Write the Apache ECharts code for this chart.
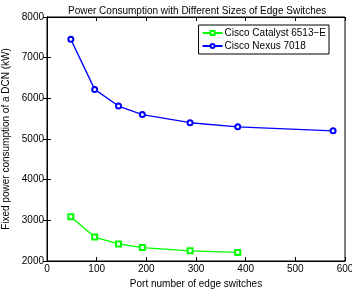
<!DOCTYPE html>
<html>
<head>
<meta charset="utf-8">
<script src="https://cdn.jsdelivr.net/npm/echarts@6/dist/echarts.min.js"></script>
<style>
  html, body { margin: 0; padding: 0; background: #fff; }
  #main { width: 352px; height: 291px; }
</style>
</head>
<body>
<div id="main"></div>
<script>
// port numbers of edge switches
var catalystPorts = [48, 96, 144, 192, 288, 384];
var catalystPower = [3090, 2590, 2420, 2330, 2250, 2210];
var nexusPorts = [48, 96, 144, 192, 288, 384, 576];
var nexusPower = [7450, 6220, 5810, 5600, 5400, 5300, 5200];
var xTicks = [0, 100, 200, 300, 400, 500, 600];
var yTicks = [2000, 3000, 4000, 5000, 6000, 7000, 8000];

function pairs(xs, ys) {
    return xs.map(function (x, i) { return [x, ys[i]]; });
}

var myChart = echarts.init(document.getElementById('main'));
var font = 'Liberation Sans, Arial, sans-serif';

var option = {
    animation: false,
    title: {
        text: 'Power Consumption with Different Sizes of Edge Switches',
        left: 63,
        top: 1,
        textStyle: { fontFamily: font, fontSize: 10, fontWeight: 'normal', color: '#000' }
    },
    legend: {
        orient: 'vertical',
        right: 23,
        top: 25,
        backgroundColor: '#fff',
        borderColor: '#000',
        borderWidth: 1,
        padding: [3, 3, 3, 3],
        itemGap: 3,
        itemWidth: 20,
        itemHeight: 5,
        textStyle: { fontFamily: font, fontSize: 10, color: '#000', padding: [0, 0, 0, -3] },
        data: ['Cisco Catalyst 6513\u2212E', 'Cisco Nexus 7018']
    },
    grid: {
        left: 47, right: 7, top: 17, bottom: 30,
        containLabel: false,
        outerBoundsMode: 'none',
        show: true, borderColor: '#000', borderWidth: 1
    },
    xAxis: [{
        type: 'value', min: 0, max: 600, interval: 100,
        name: 'Port number of edge switches',
        nameLocation: 'middle', nameGap: 9,
        nameTextStyle: { fontFamily: font, fontSize: 10, color: '#000' },
        axisLine: { show: true, lineStyle: { color: '#000' } },
        axisTick: { inside: true, length: 4, lineStyle: { color: '#000' } },
        axisLabel: { fontFamily: font, fontSize: 10, color: '#000', margin: 3,
            formatter: function (v) { return xTicks.indexOf(v) >= 0 ? v : ''; } },
        splitLine: { show: false }
    }, {
        type: 'value', min: 0, max: 600, interval: 100, position: 'top',
        axisLine: { show: true, lineStyle: { color: '#000' } },
        axisTick: { inside: true, length: 4, lineStyle: { color: '#000' } },
        axisLabel: { show: false }, splitLine: { show: false }
    }],
    yAxis: [{
        type: 'value', min: 2000, max: 8000, interval: 1000,
        name: 'Fixed power consumption of a DCN (kW)',
        nameLocation: 'middle', nameGap: 32,
        nameTextStyle: { fontFamily: font, fontSize: 10, color: '#000' },
        axisLine: { show: true, lineStyle: { color: '#000' } },
        axisTick: { inside: true, length: 4, lineStyle: { color: '#000' } },
        axisLabel: { fontFamily: font, fontSize: 10, color: '#000', margin: 3,
            formatter: function (v) { return yTicks.indexOf(v) >= 0 ? v : ''; } },
        splitLine: { show: false }
    }, {
        type: 'value', min: 2000, max: 8000, interval: 1000, position: 'right',
        axisLine: { show: true, lineStyle: { color: '#000' } },
        axisTick: { inside: true, length: 4, lineStyle: { color: '#000' } },
        axisLabel: { show: false }, splitLine: { show: false }
    }],
    series: [{
        name: 'Cisco Catalyst 6513\u2212E',
        type: 'line',
        data: pairs(catalystPorts, catalystPower),
        symbol: 'emptyRect',
        symbolSize: 5,
        itemStyle: { color: '#00ff00', borderWidth: 1.3 },
        lineStyle: { color: '#00ff00', width: 1.3 }
    }, {
        name: 'Cisco Nexus 7018',
        type: 'line',
        data: pairs(nexusPorts, nexusPower),
        symbol: 'emptyCircle',
        symbolSize: 5,
        itemStyle: { color: '#0000ff', borderWidth: 1.1 },
        lineStyle: { color: '#0000ff', width: 1.3 }
    }]
};

myChart.setOption(option);
</script>
</body>
</html>
